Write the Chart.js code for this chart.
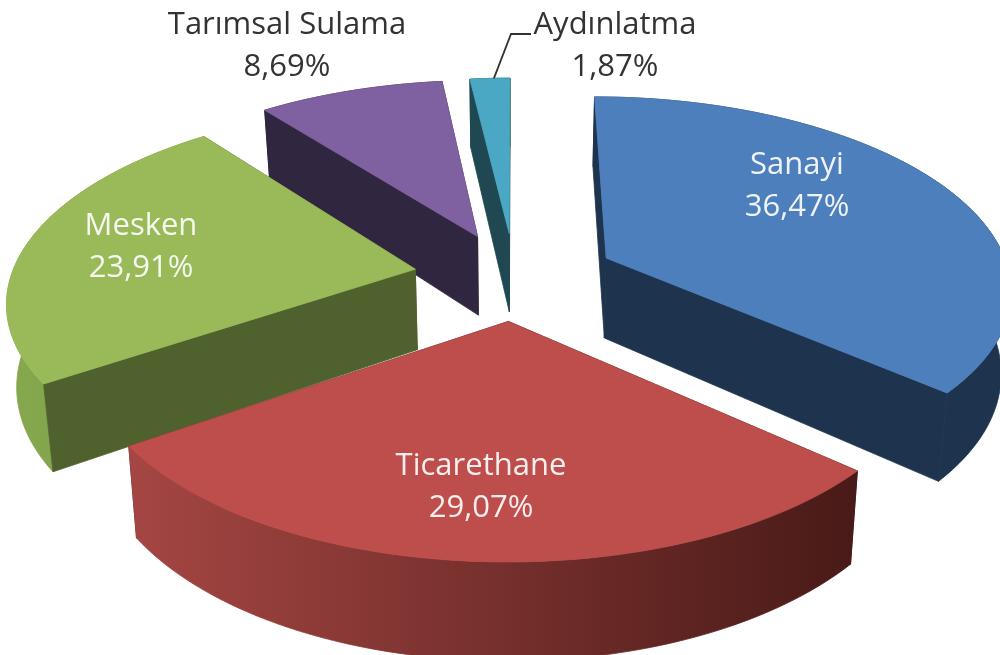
<!DOCTYPE html>
<html>
<head>
<meta charset="utf-8">
<style>
    html, body { margin: 0; padding: 0; background: #fff; overflow: hidden; }
    canvas { display: block; filter: blur(0.6px); }
</style>
<script src="https://cdn.jsdelivr.net/npm/chart.js@4"></script>
</head>
<body>
<canvas id="chart" width="1000" height="655"></canvas>
<script>
const categories = ['Sanayi', 'Ticarethane', 'Mesken', 'Tarımsal Sulama', 'Aydınlatma'];
const shares = [36.47, 29.07, 23.91, 8.69, 1.87];

const topColors = ['#4d7fbc', '#bd4e4b', '#9aba59', '#7f60a0', '#4aa8c4'];
const wallColors = ['#1e334d', '#4a1a18', '#4f612c', '#31263f', '#1f4853'];
const rimFrom = ['#1e334d', '#a54643', '#86a84e', '#31263f', '#1f4853'];
const rimTo = ['#1e334d', '#481a17', '#7a9a44', '#31263f', '#1f4853'];
const labelColors = ['#eef3f9', '#f9eeee', '#f5f8ee', '#333333', '#333333'];
const labelCenters = [[797, 186], [481, 487], [141, 247], [287, 46], [615, 46]];

// rough perspective of the tilted disc, fitted on the corners of the slices
const view = { x: 515, y: 276, kx: 404, ky: 190, tilt: 0.148, depth: 81, shrink: 0.98, spreadX: 1.14, spreadY: 1.05 };

const project = (u, v, bottom) => {
    const w = 1 - view.tilt * v;
    let x = view.x + (view.kx * u) / w;
    let y = view.y + (view.ky * v) / w;
    if (bottom) {
        x = view.x + (x - view.x) * view.shrink;
        y += view.depth / w;
    }
    return { x, y, v };
};

const slicePoints = (arc) => {
    const mid = (arc.startAngle + arc.endAngle) / 2;
    const ratio = arc.options.offset / arc.outerRadius;
    const cu = Math.cos(mid) * ratio * view.spreadX;
    const cv = Math.sin(mid) * ratio * view.spreadY;
    const rim = [];
    const steps = Math.max(4, Math.ceil((arc.endAngle - arc.startAngle) * 40));
    for (let i = 0; i <= steps; i++) {
        const a = arc.startAngle + ((arc.endAngle - arc.startAngle) * i) / steps;
        rim.push([cu + Math.cos(a), cv + Math.sin(a)]);
    }
    return { apex: [cu, cv], rim };
};

const fillPath = (ctx, points, fill) => {
    ctx.beginPath();
    points.forEach((p, i) => (i ? ctx.lineTo(p.x, p.y) : ctx.moveTo(p.x, p.y)));
    ctx.closePath();
    ctx.fillStyle = fill;
    ctx.fill();
    // hides the seam between two walls
    ctx.strokeStyle = fill;
    ctx.lineWidth = 0.8;
    ctx.stroke();
};

const meanV = (points) => points.reduce((sum, p) => sum + p.v, 0) / points.length;

const drawSlice = (ctx, arc, i) => {
    const { apex, rim } = slicePoints(arc);
    const top = rim.map((p) => project(p[0], p[1], false));
    const low = rim.map((p) => project(p[0], p[1], true));
    const apexTop = project(apex[0], apex[1], false);
    const apexLow = project(apex[0], apex[1], true);

    const xs = top.concat(low).map((p) => p.x);
    const shade = ctx.createLinearGradient(Math.min(...xs), 0, Math.max(...xs), 0);
    shade.addColorStop(0, rimFrom[i]);
    shade.addColorStop(1, rimTo[i]);

    const walls = [
        { points: [apexTop, top[0], low[0], apexLow], fill: wallColors[i] },
        { points: [apexTop, top[top.length - 1], low[low.length - 1], apexLow], fill: wallColors[i] },
        { points: top.concat(low.slice().reverse()), fill: shade },
    ];
    walls.sort((a, b) => meanV(a.points) - meanV(b.points));
    walls.forEach((wall) => fillPath(ctx, wall.points, wall.fill));
    fillPath(ctx, [apexTop].concat(top), topColors[i]);
};

const perspectivePie = {
    id: 'perspectivePie',
    beforeDatasetDraw(chart) {
        const ctx = chart.ctx;
        const arcs = chart.getDatasetMeta(0).data.map((arc, i) => ({ arc, i }));
        const centerV = (arc) => Math.sin((arc.startAngle + arc.endAngle) / 2);
        arcs.sort((a, b) => centerV(a.arc) - centerV(b.arc));
        ctx.save();
        arcs.forEach(({ arc, i }) => drawSlice(ctx, arc, i));

        // leader line of the smallest slice
        const small = chart.getDatasetMeta(0).data[4];
        const { rim } = slicePoints(small);
        const end = rim[Math.floor(rim.length / 2)];
        const anchor = project(end[0], end[1], false);
        ctx.beginPath();
        ctx.moveTo(anchor.x, anchor.y);
        ctx.lineTo(511, 34);
        ctx.lineTo(531, 34);
        ctx.strokeStyle = '#333333';
        ctx.lineWidth = 1.8;
        ctx.stroke();

        ctx.font = '31px "Open Sans"';
        ctx.textAlign = 'center';
        ctx.textBaseline = 'middle';
        categories.forEach((name, k) => {
            ctx.fillStyle = labelColors[k];
            ctx.fillText(name, labelCenters[k][0], labelCenters[k][1] - 21);
            ctx.fillText(shares[k].toFixed(2).replace('.', ',') + '%', labelCenters[k][0], labelCenters[k][1] + 21);
        });
        ctx.restore();
        return false;
    },
};

new Chart(document.getElementById('chart'), {
    type: 'pie',
    data: {
        labels: categories,
        datasets: [
            {
                data: shares,
                backgroundColor: topColors,
                borderWidth: 0,
                offset: 65,
            },
        ],
    },
    options: {
        responsive: false,
        animation: false,
        events: [],
        layout: { padding: 0 },
        plugins: { legend: { display: false }, tooltip: { enabled: false } },
    },
    plugins: [perspectivePie],
});
</script>
</body>
</html>
